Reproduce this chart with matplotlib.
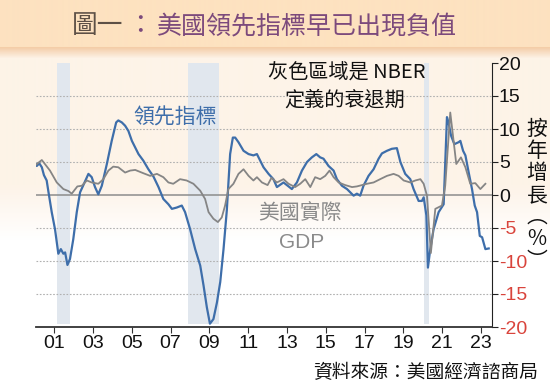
import matplotlib
import numpy as np
import matplotlib.pyplot as plt

matplotlib.use('Agg')

plt.rcParams['font.family'] = ['Noto Sans CJK TC', 'DejaVu Sans']

# Leading index, YoY % (monthly)
lei_year = [2000.02, 2000.11, 2000.24, 2000.37, 2000.48, 2000.62, 2000.71, 2000.88,
            2001.05, 2001.22, 2001.35, 2001.48, 2001.57, 2001.69, 2001.82, 2001.99,
            2002.17, 2002.34, 2002.51, 2002.77, 2002.94, 2003.11, 2003.28, 2003.46,
            2003.72, 2003.97, 2004.20, 2004.31, 2004.49, 2004.66, 2004.83, 2005.01,
            2005.18, 2005.35, 2005.60, 2005.86, 2006.12, 2006.38, 2006.63, 2006.89,
            2007.07, 2007.32, 2007.58, 2007.75, 2008.01, 2008.27, 2008.53, 2008.70,
            2008.87, 2009.03, 2009.21, 2009.39, 2009.56, 2009.73, 2009.90, 2010.07,
            2010.21, 2010.33, 2010.50, 2010.76, 2011.02, 2011.27, 2011.45, 2011.62,
            2011.79, 2012.05, 2012.30, 2012.48, 2012.82, 2013.08, 2013.25, 2013.51,
            2013.77, 2014.03, 2014.28, 2014.51, 2014.71, 2014.88, 2015.14, 2015.40,
            2015.57, 2015.83, 2016.09, 2016.43, 2016.60, 2016.77, 2016.94, 2017.20,
            2017.46, 2017.72, 2017.89, 2018.15, 2018.40, 2018.66, 2018.84, 2019.09,
            2019.35, 2019.52, 2019.78, 2019.95, 2020.04, 2020.18, 2020.26, 2020.38,
            2020.55, 2020.81, 2021.07, 2021.10, 2021.24, 2021.32, 2021.45, 2021.62,
            2021.84, 2021.93, 2022.07, 2022.19, 2022.36, 2022.53, 2022.67, 2022.79,
            2022.93, 2023.05, 2023.22, 2023.39]
lei_val = [4.9, 4.4, 4.8, 4.2, 3.0, 2.2, 0.5, -2.6,
           -5.2, -8.9, -8.2, -8.9, -8.7, -10.6, -9.7, -6.7,
           -2.6, 0.4, 1.5, 3.2, 2.7, 1.2, 0.1, 1.4,
           4.7, 8.2, 11.0, 11.3, 11.0, 10.5, 9.7, 8.2,
           7.2, 6.2, 5.2, 3.9, 2.8, 1.2, -0.6, -1.4,
           -2.1, -1.9, -1.6, -2.6, -5.2, -8.2, -10.7, -13.7,
           -17.0, -19.5, -18.8, -16.3, -13.2, -8.2, -2.3, 6.2,
           8.7, 8.7, 8.0, 6.7, 6.2, 6.0, 6.2, 5.2,
           4.2, 3.2, 2.4, 1.2, 1.9, 1.3, 0.9, 1.9,
           3.7, 5.0, 5.7, 6.2, 5.7, 5.5, 4.4, 3.7,
           2.4, 1.4, 0.9, -0.1, 0.2, -0.1, 1.4, 2.9,
           3.9, 5.5, 6.3, 6.7, 7.0, 7.1, 5.0, 3.2,
           2.4, 0.9, -0.9, -0.9, -0.35, -3.1, -11.0, -8.2,
           -5.2, -2.6, -1.4, 0.9, 11.8, 11.0, 9.0, 7.7,
           8.0, 8.2, 6.7, 6.0, 3.4, 0.9, -1.6, -2.6,
           -6.2, -6.4, -8.2, -8.1]

# Real GDP, YoY % (quarterly)
gdp_year = [2000.07, 2000.37, 2000.79, 2001.14, 2001.48, 2001.74, 2001.91, 2002.20,
            2002.43, 2002.69, 2002.94, 2003.28, 2003.54, 2003.80, 2004.05, 2004.31,
            2004.66, 2004.92, 2005.18, 2005.60, 2005.95, 2006.30, 2006.63, 2006.89,
            2007.14, 2007.49, 2007.83, 2008.18, 2008.53, 2008.78, 2008.96, 2009.21,
            2009.44, 2009.64, 2009.81, 2009.98, 2010.24, 2010.50, 2010.76, 2011.02,
            2011.27, 2011.45, 2011.71, 2012.00, 2012.20, 2012.48, 2012.82, 2013.08,
            2013.42, 2013.68, 2013.94, 2014.20, 2014.45, 2014.71, 2014.97, 2015.19,
            2015.40, 2015.66, 2016.00, 2016.35, 2016.60, 2016.86, 2017.12, 2017.46,
            2017.80, 2018.15, 2018.49, 2018.75, 2019.01, 2019.35, 2019.61, 2019.87,
            2020.04, 2020.21, 2020.41, 2020.64, 2020.98, 2021.15, 2021.41, 2021.72,
            2021.96, 2022.19, 2022.44, 2022.70, 2022.96, 2023.22]
gdp_val = [4.6, 5.3, 3.7, 1.9, 0.9, 0.6, 0.2, 1.3,
           1.4, 2.2, 1.9, 1.7, 2.4, 3.7, 4.3, 4.2,
           3.4, 3.7, 3.8, 3.3, 2.9, 3.2, 2.7, 1.9,
           1.7, 2.4, 2.2, 1.7, 0.65, -0.6, -2.6, -3.6,
           -4.1, -3.4, -1.6, 0.9, 1.7, 3.2, 3.9, 2.9,
           2.2, 2.7, 1.9, 1.5, 2.6, 1.9, 2.4, 1.7,
           1.2, 1.7, 2.4, 1.2, 2.7, 2.4, 2.9, 3.7,
           2.7, 1.9, 1.5, 1.2, 1.3, 1.5, 1.7, 1.9,
           2.4, 2.9, 3.2, 2.9, 2.2, 1.9, 2.2, 2.4,
           1.7, -0.1, -8.8, -2.1, -1.6, 1.4, 12.5, 4.7,
           5.7, 4.2, 1.7, 1.8, 0.9, 1.7]

recessions = [(2001.17, 2001.83), (2007.92, 2009.50), (2020.08, 2020.33)]
xtick_years = [2001, 2003, 2005, 2007, 2009, 2011, 2013, 2015, 2017, 2019, 2021, 2023]
xtick_labels = ['01', '03', '05', '07', '09', '11', '13', '15', '17', '19', '21', '23']
ytick_vals = [-20, -15, -10, -5, 0, 5, 10, 15, 20]

num_font = ['Liberation Sans Narrow', 'Liberation Sans', 'DejaVu Sans']

fig = plt.figure(figsize=(5.5, 3.89), dpi=100)

# background: peach title band, shadow, cream fading to white
bg = fig.add_axes([0, 0, 1, 1], zorder=-10)
bg.axis('off')
rows = np.ones((389, 1, 3))
peach = np.array([253, 226, 192]) / 255
cream = np.array([253, 243, 232]) / 255
for r in range(389):
    if r < 47:
        rows[r, 0] = peach
    elif r < 58:
        t = (r - 47) / 11
        rows[r, 0] = (1 - t) * np.array([244, 205, 168]) / 255 + t * cream
    elif r < 185:
        rows[r, 0] = cream
    elif r < 240:
        t = (r - 185) / 55
        rows[r, 0] = (1 - t) * cream + t * np.ones(3)
bg.imshow(rows, aspect='auto', extent=[0, 1, 0, 1])
bg.set_xlim(0, 1)
bg.set_ylim(0, 1)

ax = fig.add_axes([36 / 550, 1 - 327 / 389, 456 / 550, 264 / 389])
ax.patch.set_alpha(0)

for start, end in recessions:
    ax.axvspan(start, end, ymin=0.01, ymax=1, color='#e1e7ee', lw=0, zorder=0)

for v in [-15, -10, -5, 5, 10, 15]:
    ax.axhline(v, color='#b0b0b0', lw=0.8, ls=(0, (1.5, 1.5)), zorder=1)
ax.axhline(0, color='#8c8c8c', lw=1.1, zorder=1)

ax.plot(lei_year, lei_val, color='#3e6eaa', lw=1.6, zorder=3)
ax.plot(gdp_year, gdp_val, color='#858585', lw=1.3, zorder=4)

ax.set_xlim(2000.07, 2023.56)
ax.set_ylim(-20, 20)

for s in ['left', 'top']:
    ax.spines[s].set_visible(False)
ax.spines['right'].set_color('#222222')
ax.spines['bottom'].set_color('#333333')
ax.spines['bottom'].set_linewidth(1.3)

ax.yaxis.tick_right()
ax.set_yticks(ytick_vals)
ax.set_yticklabels([str(v) for v in ytick_vals], family=num_font, fontsize=14)
for lbl, v in zip(ax.get_yticklabels(), ytick_vals):
    lbl.set_color('#d9443c' if v < 0 else '#111111')
ax.tick_params(axis='y', direction='out', length=4, pad=1, color='#222222')

ax.set_xticks(xtick_years)
ax.set_xticklabels(xtick_labels, family=num_font, fontsize=14, color='#111111')
ax.tick_params(axis='x', direction='out', length=4, pad=2, color='#333333')

# title
fig.text(72 / 550, 1 - 26 / 389, '圖一', fontsize=18.5, color='#5d5046',
         ha='left', va='center')
fig.text(127 / 550, 1 - 26 / 389, '：', fontsize=18.5, color='#7c4a7c',
         ha='left', va='center')
fig.text(157 / 550, 1 - 26 / 389, '美國領先指標早已出現負值', fontsize=18,
         color='#7c4a7c', ha='left', va='center')

# annotations
fig.text(347 / 550, 1 - 73 / 389, '灰色區域是 NBER', fontsize=14.5, color='#111111',
         ha='center', va='center', family=['Noto Sans CJK TC', 'Liberation Sans'])
fig.text(345 / 550, 1 - 100 / 389, '定義的衰退期', fontsize=14.5, color='#111111',
         ha='center', va='center')
fig.text(175 / 550, 1 - 118 / 389, '領先指標', fontsize=15, color='#3e6eaa',
         ha='center', va='center')
fig.text(300 / 550, 1 - 213 / 389, '美國實際', fontsize=15, color='#8a8a8a',
         ha='center', va='center')
fig.text(302 / 550, 1 - 242 / 389, 'GDP', fontsize=15, color='#8a8a8a',
         ha='center', va='center', family=['Liberation Sans', 'DejaVu Sans'])

fig.text(537 / 550, 1 - 195 / 389, '按\n年\n增\n長\n︵\n%\n︶', fontsize=15,
         color='#111111', ha='center', va='center', linespacing=1.0)

fig.text(538 / 550, 1 - 373 / 389, '資料來源：美國經濟諮商局', fontsize=13.5,
         color='#111111', ha='right', va='center')

plt.savefig('out.png', dpi=100)
plt.close()
